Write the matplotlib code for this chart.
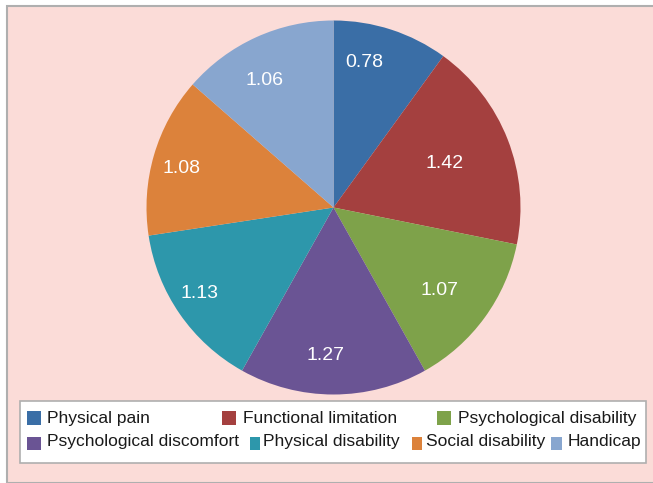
import matplotlib
matplotlib.use("Agg")
import numpy as np
import matplotlib.pyplot as plt
from matplotlib.patches import Rectangle

categories = ["Physical pain", "Functional limitation", "Psychological disability",
              "Psychological discomfort", "Physical disability", "Social disability", "Handicap"]
values = [0.78, 1.42, 1.07, 1.27, 1.13, 1.08, 1.06]
colors = ["#3A6EA6", "#A4403F", "#7EA24A", "#6A5494", "#2D97AB", "#DC823B", "#88A6CF"]

plt.rcParams['font.family'] = ['Liberation Sans', 'DejaVu Sans']
W, H = 653, 483
fig = plt.figure(figsize=(W/100, H/100), dpi=100)
fig.patch.set_facecolor("white")

def fx(x):
    return x / W

def fy(y):
    return 1 - y / H

bg = Rectangle((fx(6.5), 0), 1.01 - fx(6.5), fy(5.5), transform=fig.transFigure,
               facecolor="#FBDCD8", edgecolor="#AFAFAF", linewidth=1.5, zorder=-2)
fig.patches.append(bg)

cx, cy, r = 333.5, 207.5, 187
ax = fig.add_axes([fx(cx - r), fy(cy + r), 2*r/W, 2*r/H])
ax.set_zorder(3)
ax.set_facecolor("none")
wedges, texts = ax.pie(values, colors=colors, startangle=90, counterclock=False,
                       labels=[f"{v:.2f}" for v in values], labeldistance=0.75,
                       radius=1.0, wedgeprops=dict(linewidth=0))
# label placement (best-fit style)
label_dist = [0.79, 0.64, 0.72, 0.79, 0.85, 0.84, 0.77]
label_shift = [6, 0, -2, -3, -2, 2, 4]
for w, t, d, s in zip(wedges, texts, label_dist, label_shift):
    ang = np.deg2rad((w.theta1 + w.theta2) / 2 + s)
    t.set_position((d * np.cos(ang), d * np.sin(ang)))
    t.set_color("white")
    t.set_fontsize(14)
    t.set_ha("center")
    t.set_va("center")
ax.set_xlim(-1, 1)
ax.set_ylim(-1, 1)
ax.set_aspect("equal")
ax.axis("off")

# legend box
bx0, by0, bx1, by1 = 20, 401, 646, 463
box = Rectangle((fx(bx0), fy(by1)), (bx1 - bx0)/W, (by1 - by0)/H, transform=fig.transFigure,
                facecolor="white", edgecolor="#AFAFAF", linewidth=1.2, zorder=-1)
fig.patches.append(box)

# legend entries: (square x, square width, text x, row)
sq_x = [27, 222, 437, 27, 250, 412, 551]
sq_w = [14, 14, 14, 14, 10, 10, 11]
tx_x = [47, 243, 458, 47, 263, 426, 568]
rows = [0, 0, 0, 1, 1, 1, 1]
sq_top = [411, 436.5]
base = [423, 446]
sq = 13.5
for i, name in enumerate(categories):
    rr = rows[i]
    fig.patches.append(Rectangle((fx(sq_x[i]), fy(sq_top[rr] + sq)), sq_w[i]/W, sq/H,
                                 transform=fig.transFigure, facecolor=colors[i],
                                 edgecolor="none", zorder=2))
    fig.text(fx(tx_x[i]), fy(base[rr]), name, fontsize=12.5, color="#1A1A1A",
             ha="left", va="baseline", zorder=2)

fig.savefig("out.png", dpi=100, facecolor=fig.get_facecolor())
